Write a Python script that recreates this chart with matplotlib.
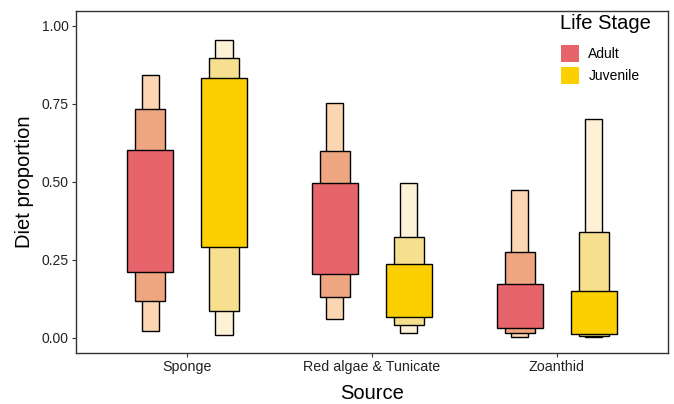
import matplotlib.pyplot as plt
from matplotlib.patches import Patch
import numpy as np

plt.rcParams['font.family'] = ['Liberation Sans', 'DejaVu Sans']

sources = ["Sponge", "Red algae & Tunicate", "Zoanthid"]
stages = ["Adult", "Juvenile"]

# credible intervals per source: (lower, upper) for 95%, 75% and 50%
adult_95 = [(0.020, 0.843), (0.059, 0.753), (0.003, 0.473)]
adult_75 = [(0.118, 0.734), (0.131, 0.599), (0.016, 0.274)]
adult_50 = [(0.211, 0.603), (0.203, 0.495), (0.032, 0.173)]
juvenile_95 = [(0.010, 0.955), (0.016, 0.497), (0.002, 0.701)]
juvenile_75 = [(0.087, 0.896), (0.041, 0.324), (0.005, 0.338)]
juvenile_50 = [(0.292, 0.832), (0.067, 0.237), (0.012, 0.151)]

colors = {
    "Adult": {"95": "#FCD6B2", "75": "#EEA680", "50": "#E6646A"},
    "Juvenile": {"95": "#FDF1D6", "75": "#F6E08F", "50": "#FBCF00"},
}
intervals = {
    "Adult": {"95": adult_95, "75": adult_75, "50": adult_50},
    "Juvenile": {"95": juvenile_95, "75": juvenile_75, "50": juvenile_50},
}
widths = {"95": 0.092, "75": 0.16, "50": 0.25}
offsets = {"Adult": -0.2, "Juvenile": 0.2}

fig = plt.figure(figsize=(6.74, 4.04), dpi=100)
ax = fig.add_axes([0.1128, 0.127, 0.8782, 0.8465])

x = np.arange(1, len(sources) + 1)
for stage in stages:
    for level in ["95", "75", "50"]:
        lo = np.array([iv[0] for iv in intervals[stage][level]])
        hi = np.array([iv[1] for iv in intervals[stage][level]])
        ax.bar(x + offsets[stage], hi - lo, bottom=lo, width=widths[level],
               color=colors[stage][level], edgecolor="black", linewidth=1.0)

ax.set_xlim(0.4, 3.6)
ax.set_ylim(-0.048, 1.048)
ax.set_xticks(x)
ax.set_xticklabels(sources, fontsize=10.3)
ax.set_yticks([0, 0.25, 0.5, 0.75, 1.0])
ax.set_yticklabels(["0.00", "0.25", "0.50", "0.75", "1.00"], fontsize=10)
ax.tick_params(length=3, color="#333333", labelcolor="#222222", width=0.8, pad=2.5)
for side in ax.spines.values():
    side.set_color("#333333")
    side.set_linewidth(1.0)

ax.set_xlabel("Source", fontsize=14.5, labelpad=7)
ax.set_ylabel("Diet proportion", fontsize=14.5, labelpad=5)

# legend title drawn separately so the gap above the keys can be set freely
ax.text(0.8176, 0.9456, "Life Stage", transform=ax.transAxes,
        fontsize=14.5, ha="left", va="baseline")
handles = [Patch(facecolor=colors[s]["50"], edgecolor="none", label=s) for s in stages]
leg = ax.legend(handles=handles, loc="upper left",
                bbox_to_anchor=(0.8193, 0.8997), borderaxespad=0, borderpad=0,
                frameon=False, fontsize=10,
                handlelength=1.27, handleheight=1.54, handletextpad=0.7,
                labelspacing=0.32)

fig.savefig("out.png", dpi=100)
